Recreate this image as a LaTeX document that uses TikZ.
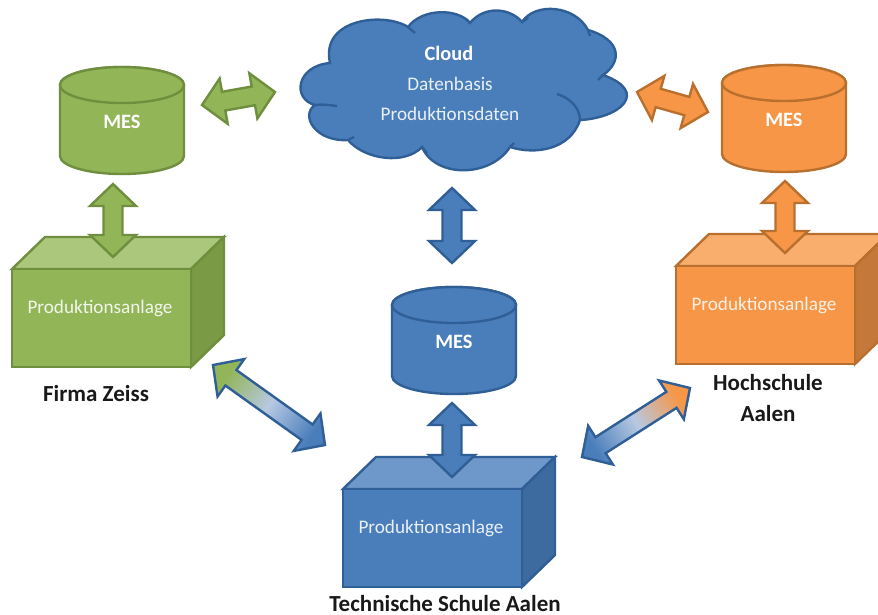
\documentclass[tikz,border=0pt]{standalone}
\usepackage{fontspec}
\setmainfont{Carlito}
\usetikzlibrary{calc}
\definecolor{gfill}{HTML}{92B558}\definecolor{gline}{HTML}{6F8F3E}\definecolor{gtop}{HTML}{ABC77C}\definecolor{gside}{HTML}{7A9A46}
\definecolor{bfill}{HTML}{4A7EBB}\definecolor{bline}{HTML}{2F5F96}\definecolor{btop}{HTML}{6E98CA}\definecolor{bside}{HTML}{3D6A9F}
\definecolor{ofill}{HTML}{F79646}\definecolor{oline}{HTML}{B9702F}\definecolor{otop}{HTML}{F9AE6D}\definecolor{oside}{HTML}{C4783A}
\definecolor{midblue}{HTML}{B7C8E2}
\tikzset{
  shapeline/.style={line width=2.4pt,line join=miter},
  lbl/.style={anchor=base,font=\fontsize{19.2}{22}\selectfont,text=white,text opacity=0.88},
  mes/.style={anchor=base,font=\bfseries\fontsize{20.4}{24}\selectfont,text=white},
  caption/.style={anchor=base,inner sep=0pt,font=\bfseries\fontsize{23}{26}\selectfont,text=black!90,align=center},
  garrow/.style={fill=gfill,draw=gline,shapeline},
  barrow/.style={fill=bfill,draw=bline,shapeline},
  oarrow/.style={fill=ofill,draw=oline,shapeline},
  garrowG/.style={draw=bline,shapeline,left color=gfill,right color=bfill,middle color=midblue,shading angle=54.5},
  oarrowG/.style={draw=bline,shapeline,left color=bfill,right color=ofill,middle color=midblue,shading angle=122.5},
}
% #1 style, #2 from, #3 to
\newcommand\blockarrow[3]{%
  \path let \p1=($(#3)-(#2)$), \n1={atan2(\y1,\x1)}, \n2={veclen(\x1,\y1)} in
    \pgfextra{\pgfmathsetmacro\myang{\n1}\pgfmathsetmacro\mylen{\n2}\xdef\myang{\myang}\xdef\mylen{\mylen}};
  \begin{scope}[shift={(#2)},rotate=\myang]
    \path[#1] (0,0) -- (22,-23) -- (22,-9.5) -- ({\mylen-22},-9.5) -- ({\mylen-22},-23) -- (\mylen,0)
      -- ({\mylen-22},23) -- ({\mylen-22},9.5) -- (22,9.5) -- (22,23) -- cycle;
  \end{scope}}
% #1 name, #2 cx, #3 top-ellipse cy, #4 prefix colour
\newcommand\mycyl[4]{%
  \path[fill=#4fill,draw=#4line,shapeline] ({#2-62},#3) -- ({#2-62},{#3+71}) arc[start angle=180,end angle=360,x radius=62,y radius=-18] -- ({#2+62},#3)
     arc[start angle=0,end angle=180,x radius=62,y radius=-18] -- cycle;
  \path[fill=#4fill,draw=#4line,shapeline] (#2,#3) ellipse[x radius=62,y radius=18];
  \node[mes] (#1) at (#2,{#3+43}) {MES};}
% #1 name, #2 left, #3 top of front, #4 colour; front 179x98, depth 32
\newcommand\mybox[4]{%
  \path[fill=#4top,draw=#4line,shapeline] (#2,#3) -- ({#2+33},{#3-32}) -- ({#2+212},{#3-32}) -- ({#2+179},#3) -- cycle;
  \path[fill=#4side,draw=#4line,shapeline] ({#2+179},#3) -- ({#2+212},{#3-32}) -- ({#2+212},{#3+66}) -- ({#2+179},{#3+98}) -- cycle;
  \path[fill=#4fill,draw=#4line,shapeline] (#2,#3) rectangle ({#2+179},{#3+98});
  \node[lbl] (#1) at ({#2+88},{#3+44}) {Produktionsanlage};}
\begin{document}
\begin{tikzpicture}[x=1pt,y=-1pt]
\useasboundingbox (0,0) rectangle (878,614);
\fill[white] (0,0) rectangle (878,614);
% cloud
\path[fill=bfill,draw=bline,shapeline]
  (330,63) .. controls (296,66) and (292,99) .. (315,105)
  .. controls (300,115) and (315,142) .. (348,140)
  .. controls (365,160) and (405,165) .. (422,147)
  .. controls (435,178) and (490,178) .. (510,147)
  .. controls (535,155) and (570,150) .. (580,120)
  .. controls (620,118) and (650,92) .. (603,75)
  .. controls (622,62) and (622,40) .. (588,30)
  .. controls (575,5) and (535,2) .. (522,22)
  .. controls (510,8) and (485,5) .. (470,23)
  .. controls (458,8) and (422,8) .. (408,27)
  .. controls (385,12) and (320,18) .. (330,63) -- cycle;
\draw[bline,shapeline] (315,105) .. controls (322,104) and (330,105) .. (337,106);
\draw[bline,shapeline] (348,140) -- (354,137);
\draw[bline,shapeline] (422,147) -- (427,153);
\draw[bline,shapeline] (510,147) -- (514,143);
\draw[bline,shapeline] (580,120) .. controls (580,108) and (570,98) .. (557,94);
\draw[bline,shapeline] (603,75) -- (598,80);
\draw[bline,shapeline] (588,30) -- (590,36);
\draw[bline,shapeline] (522,22) -- (528,18);
\draw[bline,shapeline] (470,23) -- (466,19);
\draw[bline,shapeline] (408,27) -- (415,33);
\node[mes] (cloudt) at (449,60) {Cloud};
\node[lbl] (cloudb) at (450,90) {Datenbasis};
\node[lbl] (cloudp) at (450,120) {Produktionsdaten};
% machines
\mycyl{mesg}{122}{85}{g}
\mycyl{mesb}{454}{305}{b}
\mycyl{meso}{784}{83}{o}
\mybox{boxg}{12}{269}{g}
\mybox{boxb}{343}{489}{b}
\mybox{boxo}{676}{266}{o}
% arrow ends
\coordinate (g1) at (113,184); \coordinate (g2) at (113,257);
\coordinate (g3) at (202,105); \coordinate (g4) at (275,92);
\coordinate (b1) at (452,188); \coordinate (b2) at (452,263);
\coordinate (b3) at (452,403); \coordinate (b4) at (452,477);
\coordinate (o1) at (785,181); \coordinate (o2) at (785,253);
\coordinate (o3) at (637,92); \coordinate (o4) at (708,112);
\coordinate (d1) at (325,445); \coordinate (d2) at (213,365);
\coordinate (d3) at (582,457); \coordinate (d4) at (690,388);
\blockarrow{garrow}{g1}{g2}
\blockarrow{garrow}{g3}{g4}
\blockarrow{barrow}{b1}{b2}
\blockarrow{barrow}{b3}{b4}
\blockarrow{oarrow}{o1}{o2}
\blockarrow{oarrow}{o3}{o4}
\blockarrow{garrowG}{d1}{d2}
\blockarrow{oarrowG}{d3}{d4}
% captions
\node[caption] (firma) at (96,401) {Firma Zeiss};
\node[caption] (hoch) at (768,390) {Hochschule};
\node[caption] (aalen) at (768,421) {Aalen};
\node[caption] (tech) at (445,611) {Technische Schule Aalen};
\end{tikzpicture}
\end{document}
